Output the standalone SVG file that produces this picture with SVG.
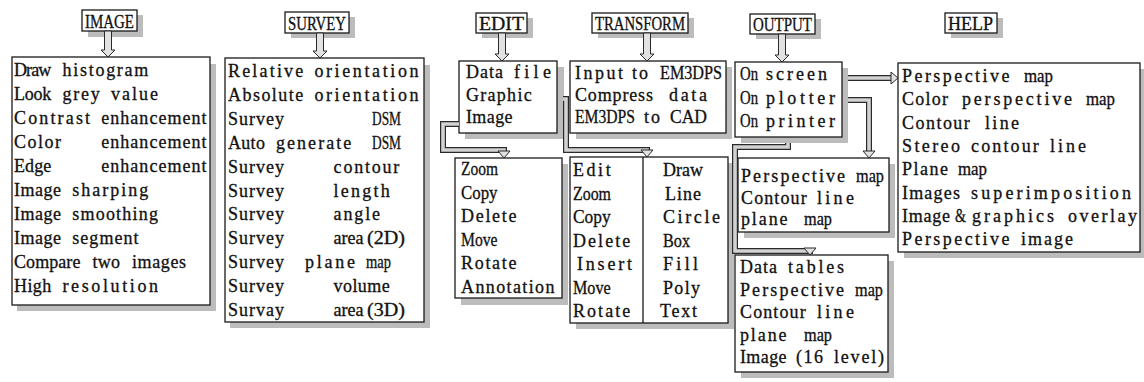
<svg xmlns="http://www.w3.org/2000/svg" width="1144" height="382" viewBox="0 0 1144 382">
<style>
.box{fill:#fff;stroke:#1a1a1a;stroke-width:1.3}
.sh{fill:#bcbcbc}
.t{font-family:"Liberation Serif",serif;font-size:18px;fill:#111;stroke:#111;stroke-width:0.3}
.ttl{font-family:"Liberation Serif",serif;font-size:18px;fill:#111;stroke:#111;stroke-width:0.3}
.po{fill:none;stroke:#2a2a2a;stroke-width:6;stroke-linejoin:miter}
.pi{fill:none;stroke:#d2d2d2;stroke-width:3.6;stroke-linejoin:miter}
.arr{fill:#e2e2e2;stroke:#2a2a2a;stroke-width:1}
.dv{stroke:#1a1a1a;stroke-width:1.3}
</style>
<rect width="1144" height="382" fill="#fff"/>

<g id="image">
<rect class="sh" x="88" y="15" width="55" height="22"/>
<rect class="box" x="82" y="10" width="55" height="21"/>
<text class="ttl" x="85" y="28" textLength="49" lengthAdjust="spacingAndGlyphs">IMAGE</text>
<rect class="sh" x="17" y="64" width="199" height="247"/>
<rect class="box" x="12" y="57" width="198" height="248"/>
<text class="t" y="76"><tspan x="14" textLength="37.3">Draw</tspan><tspan x="62.5" textLength="85.8">histogram</tspan></text>
<text class="t" y="100"><tspan x="14" textLength="37.3">Look</tspan><tspan x="62.5" textLength="37.3">grey</tspan><tspan x="111" textLength="47">value</tspan></text>
<text class="t" y="124"><tspan x="14" textLength="76.1">Contrast</tspan><tspan x="101.3" textLength="105.2">enhancement</tspan></text>
<text class="t" y="148"><tspan x="14" textLength="47">Color</tspan><tspan x="101.3" textLength="105.2">enhancement</tspan></text>
<text class="t" y="172"><tspan x="14" textLength="37.3">Edge</tspan><tspan x="101.3" textLength="105.2">enhancement</tspan></text>
<text class="t" y="196"><tspan x="14" textLength="47">Image</tspan><tspan x="72.2" textLength="76.1">sharping</tspan></text>
<text class="t" y="220"><tspan x="14" textLength="47">Image</tspan><tspan x="72.2" textLength="85.8">smoothing</tspan></text>
<text class="t" y="244"><tspan x="14" textLength="47">Image</tspan><tspan x="72.2" textLength="66.4">segment</tspan></text>
<text class="t" y="268"><tspan x="14" textLength="66.4">Compare</tspan><tspan x="92.5" textLength="27.6">two</tspan><tspan x="132" textLength="54">images</tspan></text>
<text class="t" y="292"><tspan x="14" textLength="37.3">High</tspan><tspan x="62.5" textLength="95.5">resolution</tspan></text>
</g>

<g id="survey">
<rect class="sh" x="291" y="17" width="64" height="21"/>
<rect class="box" x="285" y="12" width="64" height="21"/>
<text class="ttl" x="288" y="30" textLength="58" lengthAdjust="spacingAndGlyphs">SURVEY</text>
<rect class="sh" x="230" y="65" width="200" height="263"/>
<rect class="box" x="225" y="58" width="199" height="264"/>
<text class="t" y="77"><tspan x="228" textLength="75.3">Relative</tspan><tspan x="314.4" textLength="104.1">orientation</tspan></text>
<text class="t" y="101"><tspan x="228" textLength="75.3">Absolute</tspan><tspan x="314.4" textLength="104.1">orientation</tspan></text>
<text class="t" y="125"><tspan x="228" textLength="56.1">Survey</tspan><tspan x="372" textLength="29" lengthAdjust="spacingAndGlyphs">DSM</tspan></text>
<text class="t" y="149"><tspan x="228" textLength="36.9">Auto</tspan><tspan x="276" textLength="75.3">generate</tspan><tspan x="372" textLength="29" lengthAdjust="spacingAndGlyphs">DSM</tspan></text>
<text class="t" y="173"><tspan x="228" textLength="56.1">Survey</tspan><tspan x="333.6" textLength="65.7">contour</tspan></text>
<text class="t" y="197"><tspan x="228" textLength="56.1">Survey</tspan><tspan x="333.6" textLength="56.1">length</tspan></text>
<text class="t" y="220"><tspan x="228" textLength="56.1">Survey</tspan><tspan x="333.6" textLength="46.5">angle</tspan></text>
<text class="t" y="244"><tspan x="228" textLength="56.1">Survey</tspan><tspan x="333.6" textLength="30">area</tspan><tspan x="367" textLength="38" lengthAdjust="spacingAndGlyphs">(2D)</tspan></text>
<text class="t" y="268"><tspan x="228" textLength="56.1">Survey</tspan><tspan x="305" textLength="50">plane</tspan><tspan x="366" textLength="25" lengthAdjust="spacingAndGlyphs">map</tspan></text>
<text class="t" y="292"><tspan x="228" textLength="56.1">Survey</tspan><tspan x="333.6" textLength="56.1">volume</tspan></text>
<text class="t" y="316"><tspan x="228" textLength="56.1">Survay</tspan><tspan x="333.6" textLength="30">area</tspan><tspan x="367" textLength="38" lengthAdjust="spacingAndGlyphs">(3D)</tspan></text>
</g>

<g id="edit">
<rect class="sh" x="482" y="18" width="51" height="20"/>
<rect class="box" x="476" y="13" width="51" height="20"/>
<text class="ttl" x="479" y="30" textLength="45" lengthAdjust="spacingAndGlyphs">EDIT</text>
<rect class="sh" x="465" y="67" width="99" height="72"/>
<rect class="box" x="459" y="61" width="98" height="72"/>
<text class="t" y="78"><tspan x="466" textLength="36.9">Data</tspan><tspan x="514" textLength="36.9">file</tspan></text>
<text class="t" y="100.5"><tspan x="466" textLength="65.7">Graphic</tspan></text>
<text class="t" y="123"><tspan x="466" textLength="46.5">Image</tspan></text>
</g>

<g id="edit-tools">
<rect class="sh" x="461" y="164" width="107" height="141"/>
<rect class="box" x="455" y="158" width="107" height="140"/>
<text class="t" x="461" y="175" textLength="37" lengthAdjust="spacingAndGlyphs">Zoom</text>
<text class="t" x="461" y="198.5" textLength="36.5" lengthAdjust="spacingAndGlyphs">Copy</text>
<text class="t" x="461" y="222" textLength="55.5">Delete</text>
<text class="t" x="461" y="245.5" textLength="36.5" lengthAdjust="spacingAndGlyphs">Move</text>
<text class="t" x="461" y="269" textLength="55.5">Rotate</text>
<text class="t" x="461" y="292.5" textLength="93.5">Annotation</text>
</g>

<g id="transform">
<rect class="sh" x="598" y="18" width="96" height="20"/>
<rect class="box" x="592" y="13" width="96" height="20"/>
<text class="ttl" x="595" y="30" textLength="90" lengthAdjust="spacingAndGlyphs">TRANSFORM</text>
<rect class="sh" x="576" y="67" width="156" height="72"/>
<rect class="box" x="570" y="61" width="156" height="72"/>
<text class="t" y="79"><tspan x="575" textLength="48">Input</tspan><tspan x="632" textLength="16">to</tspan><tspan x="660" textLength="62" lengthAdjust="spacingAndGlyphs">EM3DPS</tspan></text>
<text class="t" y="101"><tspan x="575" textLength="78">Compress</tspan><tspan x="669" textLength="38">data</tspan></text>
<text class="t" y="123"><tspan x="575" textLength="60" lengthAdjust="spacingAndGlyphs">EM3DPS</tspan><tspan x="644" textLength="16">to</tspan><tspan x="670" textLength="37" lengthAdjust="spacingAndGlyphs">CAD</tspan></text>
</g>

<g id="graphic-tools">
<rect class="sh" x="576" y="163" width="158" height="166"/>
<rect class="box" x="570" y="157" width="158" height="166"/>
<line class="dv" x1="643" y1="157" x2="643" y2="323"/>
<text class="t" y="176"><tspan x="573" textLength="37.7">Edit</tspan><tspan x="663" textLength="40">Draw</tspan></text>
<text class="t" y="199.5"><tspan x="573" textLength="38" lengthAdjust="spacingAndGlyphs">Zoom</tspan><tspan x="665" textLength="36">Line</tspan></text>
<text class="t" y="223"><tspan x="573" textLength="37.7" lengthAdjust="spacingAndGlyphs">Copy</tspan><tspan x="663" textLength="57">Circle</tspan></text>
<text class="t" y="246.5"><tspan x="573" textLength="57.3">Delete</tspan><tspan x="663" textLength="27" lengthAdjust="spacingAndGlyphs">Box</tspan></text>
<text class="t" y="270"><tspan x="577" textLength="55">Insert</tspan><tspan x="663" textLength="35">Fill</tspan></text>
<text class="t" y="293.5"><tspan x="573" textLength="37.7" lengthAdjust="spacingAndGlyphs">Move</tspan><tspan x="663" textLength="37">Poly</tspan></text>
<text class="t" y="317"><tspan x="573" textLength="57.3">Rotate</tspan><tspan x="660" textLength="37">Text</tspan></text>
</g>

<g id="output">
<rect class="sh" x="756" y="19" width="65" height="20"/>
<rect class="box" x="750" y="14" width="65" height="20"/>
<text class="ttl" x="753" y="31" textLength="59" lengthAdjust="spacingAndGlyphs">OUTPUT</text>
<rect class="sh" x="741" y="68" width="107" height="75"/>
<rect class="box" x="735" y="62" width="107" height="75"/>
<text class="t" y="80"><tspan x="740" textLength="18" lengthAdjust="spacingAndGlyphs">On</tspan><tspan x="766" textLength="61">screen</tspan></text>
<text class="t" y="103.5"><tspan x="740" textLength="18" lengthAdjust="spacingAndGlyphs">On</tspan><tspan x="766" textLength="69">plotter</tspan></text>
<text class="t" y="127"><tspan x="740" textLength="18" lengthAdjust="spacingAndGlyphs">On</tspan><tspan x="766" textLength="69">printer</tspan></text>
</g>

<g id="plotter-maps">
<rect class="sh" x="744" y="164" width="151" height="74"/>
<rect class="box" x="738" y="158" width="151" height="74"/>
<text class="t" y="182"><tspan x="741" textLength="104.1">Perspective</tspan><tspan x="856" textLength="28" lengthAdjust="spacingAndGlyphs">map</tspan></text>
<text class="t" y="203.5"><tspan x="741" textLength="65.7">Contour</tspan><tspan x="817" textLength="36.9">line</tspan></text>
<text class="t" y="225"><tspan x="741" textLength="46.5">plane</tspan><tspan x="804" textLength="28" lengthAdjust="spacingAndGlyphs">map</tspan></text>
</g>

<g id="printer-maps">
<rect class="sh" x="741" y="261" width="153" height="117"/>
<rect class="box" x="735" y="255" width="153" height="117"/>
<text class="t" y="273"><tspan x="740" textLength="36.9">Data</tspan><tspan x="788" textLength="56.1">tables</tspan></text>
<text class="t" y="295.5"><tspan x="740" textLength="104.1">Perspective</tspan><tspan x="855" textLength="28" lengthAdjust="spacingAndGlyphs">map</tspan></text>
<text class="t" y="318"><tspan x="740" textLength="65.7">Contour</tspan><tspan x="817" textLength="36.9">line</tspan></text>
<text class="t" y="340.5"><tspan x="740" textLength="46.5">plane</tspan><tspan x="804" textLength="28" lengthAdjust="spacingAndGlyphs">map</tspan></text>
<text class="t" y="363"><tspan x="740" textLength="46.5">Image</tspan><tspan x="796" textLength="27">(16</tspan><tspan x="834" textLength="50">level)</tspan></text>
</g>

<g id="help">
<rect class="sh" x="951" y="18" width="52" height="20"/>
<rect class="box" x="945" y="13" width="52" height="20"/>
<text class="ttl" x="948" y="30" textLength="45" lengthAdjust="spacingAndGlyphs">HELP</text>
<rect class="sh" x="904" y="69" width="240" height="189"/>
<rect class="box" x="898" y="63" width="242" height="189"/>
<text class="t" y="82"><tspan x="902" textLength="107.4">Perspective</tspan><tspan x="1024" textLength="29" lengthAdjust="spacingAndGlyphs">map</tspan></text>
<text class="t" y="105.3"><tspan x="902" textLength="46">Color</tspan><tspan x="962" textLength="110">perspective</tspan><tspan x="1086" textLength="29" lengthAdjust="spacingAndGlyphs">map</tspan></text>
<text class="t" y="128.6"><tspan x="902" textLength="67.8">Contour</tspan><tspan x="985" textLength="34">line</tspan></text>
<text class="t" y="152"><tspan x="902" textLength="57.9">Stereo</tspan><tspan x="971" textLength="67.8">contour</tspan><tspan x="1050" textLength="36">line</tspan></text>
<text class="t" y="175"><tspan x="902" textLength="46">Plane</tspan><tspan x="958" textLength="29" lengthAdjust="spacingAndGlyphs">map</tspan></text>
<text class="t" y="198.6"><tspan x="902" textLength="57.9">Images</tspan><tspan x="971" textLength="160">superimposition</tspan></text>
<text class="t" y="222"><tspan x="902" textLength="48">Image</tspan><tspan x="955" textLength="11" lengthAdjust="spacingAndGlyphs">&amp;</tspan><tspan x="972" textLength="82">graphics</tspan><tspan x="1068" textLength="69">overlay</tspan></text>
<text class="t" y="245"><tspan x="902" textLength="107.4">Perspective</tspan><tspan x="1021" textLength="52">image</tspan></text>
</g>

<g id="connectors">
<polygon class="arr" points="104.5,31 111.5,31 111.5,50 115,50 108,57 101,50 104.5,50"/>
<polygon class="arr" points="316.5,33 323.5,33 323.5,51 327,51 320,58 313,51 316.5,51"/>
<polygon class="arr" points="498.5,33 505.5,33 505.5,54 509,54 502,61 495,54 498.5,54"/>
<polygon class="arr" points="643.5,33 650.5,33 650.5,54 654,54 647,61 640,54 643.5,54"/>
<polygon class="arr" points="778.5,34 785.5,34 785.5,55 789,55 782,62 775,55 778.5,55"/>
<path class="po" d="M459,124 H443 V150 H504 V152"/>
<path class="pi" d="M459,124 H443 V150 H504 V152"/>
<polygon class="arr" points="498,151 510,151 504,158"/>
<path class="po" d="M563,99 H566 V150 H647 V151"/>
<path class="pi" d="M563,99 H566 V150 H647 V151"/>
<polygon class="arr" points="641,150 653,150 647,157"/>
<path class="po" d="M848,78 H892"/>
<path class="pi" d="M848,78 H892"/>
<polygon class="arr" points="891,72 891,84 898,78"/>
<path class="po" d="M848,100 H869 V151"/>
<path class="pi" d="M848,100 H869 V151"/>
<polygon class="arr" points="863,151 875,151 869,158"/>
<path class="po" d="M788,143 V147 H735 V251 H810 V249"/>
<path class="pi" d="M788,143 V147 H735 V251 H810 V249"/>
<polygon class="arr" points="804,248 816,248 810,255"/>
</g>
</svg>
